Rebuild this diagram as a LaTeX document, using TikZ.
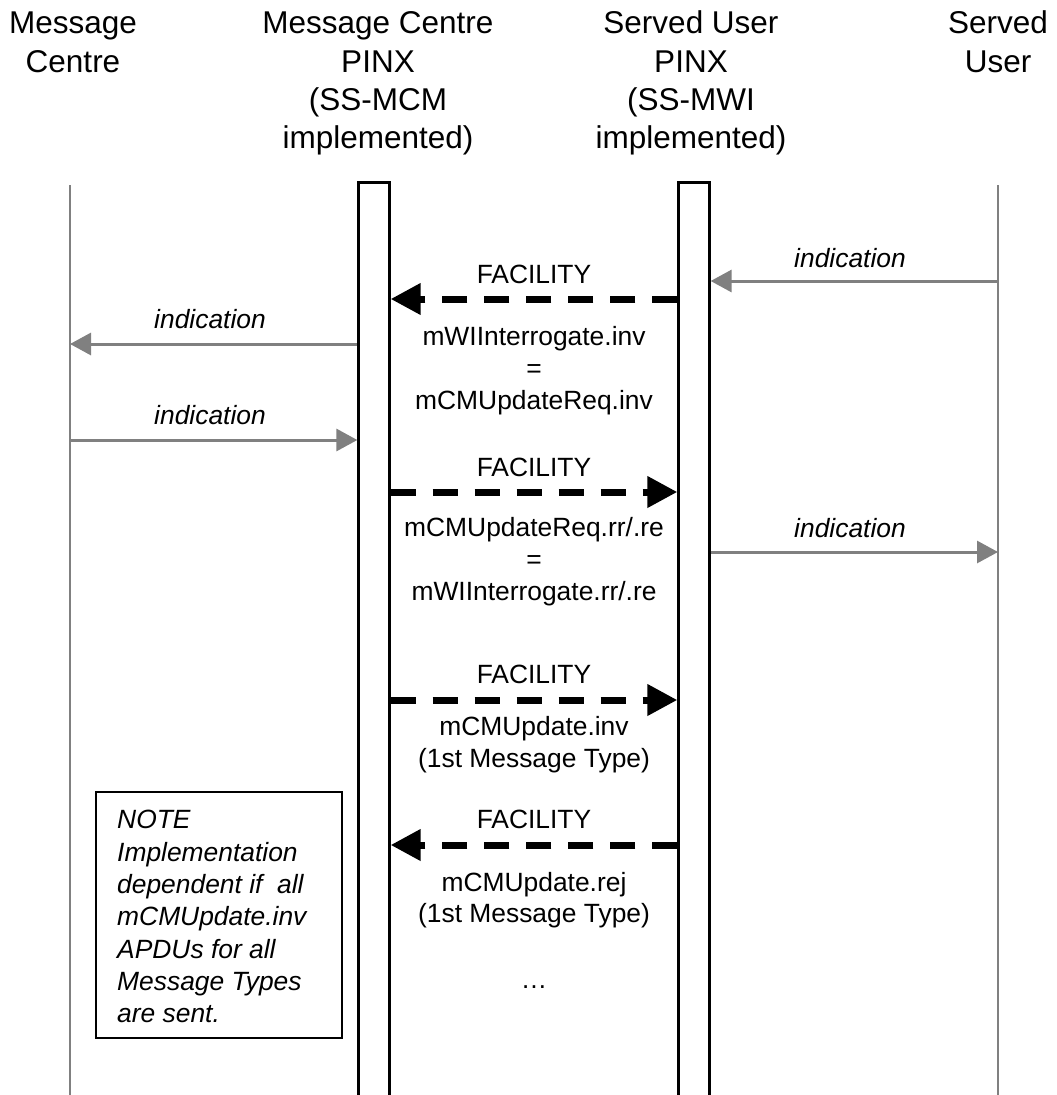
\documentclass[tikz,border=0pt]{standalone}
\usepackage{fontspec}
\setmainfont{Liberation Sans}
\usetikzlibrary{arrows.meta}
\definecolor{lifegray}{RGB}{128,128,128}
\tikzset{
  hdr/.style={font=\fontsize{31.5}{38}\selectfont, anchor=base, inner sep=0pt},
  lbl/.style={font=\fontsize{26.4}{32}\selectfont, anchor=base, inner sep=0pt},
  ilbl/.style={font=\fontsize{26.4}{32}\selectfont\itshape, anchor=base, inner sep=0pt},
  notetxt/.style={font=\fontsize{26.4}{32}\selectfont\itshape, anchor=base west, inner sep=0pt},
  lifeline/.style={draw=lifegray, line width=2pt},
  bar/.style={draw=black, line width=2.8pt, rectangle, inner sep=0pt, minimum width=30.5pt, minimum height=926pt},
  notebox/.style={draw=black, line width=1.6pt, rectangle, inner sep=0pt, minimum width=246pt, minimum height=246pt},
  msg/.style={draw=black, line width=7pt, dash pattern=on 25pt off 17pt, -{Triangle[length=30pt,width=30pt]}},
  ind/.style={draw=lifegray, line width=3pt, -{Triangle[length=21pt,width=22pt]}},
}
\begin{document}
\begin{tikzpicture}[x=1pt,y=-1pt]
\useasboundingbox (0,0) rectangle (1057,1095);
\clip (0,0) rectangle (1057,1095);
\fill[white] (0,0) rectangle (1057,1095);

% headers
\node[hdr] (h1a) at (73,33) {Message};
\node[hdr] (h1b) at (73,72) {Centre};
\node[hdr] (h2a) at (378,33) {Message Centre};
\node[hdr] (h2b) at (378,72) {PINX};
\node[hdr] (h2c) at (378,110) {(SS-MCM};
\node[hdr] (h2d) at (378,148) {implemented)};
\node[hdr] (h3a) at (691,33) {Served User};
\node[hdr] (h3b) at (691,72) {PINX};
\node[hdr] (h3c) at (691,110) {(SS-MWI};
\node[hdr] (h3d) at (691,148) {implemented)};
\node[hdr] (h4a) at (998,33) {Served};
\node[hdr] (h4b) at (998,72) {User};

% lifelines
\coordinate (mc) at (70,185);
\coordinate (su) at (998,185);
\draw[lifeline] (mc) -- (mc |- 0,1100);
\draw[lifeline] (su) -- (su |- 0,1100);
\node[bar] (mcp) at (374,1110) [anchor=south] {};
\node[bar] (sup) at (694,1110) [anchor=south] {};

% 1: indication SU -> SU PINX
\draw[ind] (su |- 0,281) -- (sup.east |- 0,281);
\node[ilbl] (l1) at (850,267) {indication};

% 2: FACILITY SU PINX -> MC PINX
\draw[msg] (sup.west |- 0,299) -- (mcp.east |- 0,299);
\node[lbl] (f1) at (534,283) {FACILITY};
\node[lbl] (f1a) at (534,345) {mWIInterrogate.inv};
\node[lbl] (f1b) at (534,377) {=};
\node[lbl] (f1c) at (534,409) {mCMUpdateReq.inv};

% 3: indication MC PINX -> MC
\draw[ind] (mcp.west |- 0,344) -- (mc |- 0,344);
\node[ilbl] (l2) at (210,328) {indication};

% 4: indication MC -> MC PINX
\draw[ind] (mc |- 0,440) -- (mcp.west |- 0,440);
\node[ilbl] (l3) at (210,424) {indication};

% 5: FACILITY MC PINX -> SU PINX
\draw[msg] (mcp.east |- 0,492) -- (sup.west |- 0,492);
\node[lbl] (f2) at (534,476) {FACILITY};
\node[lbl] (f2a) at (534,536) {mCMUpdateReq.rr/.re};
\node[lbl] (f2b) at (534,568) {=};
\node[lbl] (f2c) at (534,600) {mWIInterrogate.rr/.re};

% 6: indication SU PINX -> SU
\draw[ind] (sup.east |- 0,552) -- (su |- 0,552);
\node[ilbl] (l4) at (850,537) {indication};

% 7: FACILITY MC PINX -> SU PINX
\draw[msg] (mcp.east |- 0,700) -- (sup.west |- 0,700);
\node[lbl] (f3) at (534,683) {FACILITY};
\node[lbl] (f3a) at (534,735) {mCMUpdate.inv};
\node[lbl] (f3b) at (534,767) {(1st Message Type)};

% 8: FACILITY SU PINX -> MC PINX
\draw[msg] (sup.west |- 0,845) -- (mcp.east |- 0,845);
\node[lbl] (f4) at (534,828) {FACILITY};
\node[lbl] (f4a) at (534,891) {mCMUpdate.rej};
\node[lbl] (f4b) at (534,922) {(1st Message Type)};
\node[lbl] (dots) at (534,988) {…};

% note
\node[notebox] (note) at (219,915) {};
\node[notetxt] (n1) at (117,828) {NOTE};
\node[notetxt] (n2) at (117,861) {Implementation};
\node[notetxt] (n3) at (117,893) {dependent if\ \ all};
\node[notetxt] (n4) at (117,925) {mCMUpdate.inv};
\node[notetxt] (n5) at (117,958) {APDUs for all};
\node[notetxt] (n6) at (117,990) {Message Types};
\node[notetxt] (n7) at (117,1022) {are sent.};
\end{tikzpicture}
\end{document}
